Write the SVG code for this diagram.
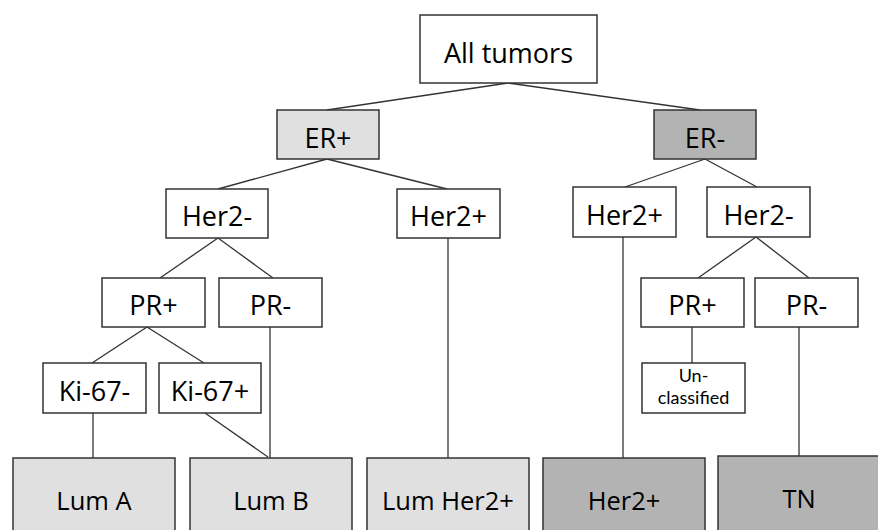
<svg xmlns="http://www.w3.org/2000/svg" width="878" height="530" viewBox="0 0 878 530">
<style>
.box{stroke:#333;stroke-width:1.5;fill:#fff}
.l1{fill:#e0e0e0}
.d1{fill:#b3b3b3}
.t{font-family:"Open Sans","Noto Sans",sans-serif;font-size:27px;fill:#000;text-anchor:middle}
.tb{font-size:25.5px}
.ts{font-family:Lato,"Open Sans",sans-serif;font-size:18px}
#connectors line{stroke:#333;stroke-width:1.3}
</style>
<rect width="878" height="530" fill="#fff"/>
<g id="connectors">
<line x1="508" y1="83" x2="327" y2="110"/>
<line x1="508" y1="83" x2="700" y2="110"/>
<line x1="327" y1="159" x2="218" y2="189"/>
<line x1="327" y1="159" x2="447" y2="189"/>
<line x1="705" y1="159" x2="625" y2="187"/>
<line x1="705" y1="159" x2="757" y2="187"/>
<line x1="218" y1="238" x2="160" y2="278"/>
<line x1="218" y1="238" x2="273" y2="278"/>
<line x1="147" y1="327" x2="92" y2="363"/>
<line x1="147" y1="327" x2="204" y2="363"/>
<line x1="93" y1="413" x2="93" y2="458"/>
<line x1="205" y1="413" x2="268" y2="457"/>
<line x1="270" y1="327" x2="270" y2="458"/>
<line x1="448" y1="238" x2="448" y2="458"/>
<line x1="623" y1="237" x2="623" y2="458"/>
<line x1="756" y1="237" x2="698" y2="278"/>
<line x1="756" y1="237" x2="809" y2="278"/>
<line x1="692" y1="327" x2="692" y2="363"/>
<line x1="799" y1="327" x2="799" y2="456"/>
</g>
<g id="all-tumors"><rect class="box" x="420" y="15" width="177" height="68"/><text class="t" x="508.5" y="63">All tumors</text></g>
<g id="er-pos"><rect class="box l1" x="277" y="110" width="102" height="49"/><text class="t" x="328" y="148">ER+</text></g>
<g id="er-neg"><rect class="box d1" x="654" y="110" width="102" height="49"/><text class="t" x="705" y="148">ER-</text></g>
<g id="her2-neg-l"><rect class="box" x="166" y="189" width="102" height="49"/><text class="t" x="217" y="226">Her2-</text></g>
<g id="her2-pos-l"><rect class="box" x="397" y="189" width="103" height="49"/><text class="t" x="448.5" y="226">Her2+</text></g>
<g id="her2-pos-r"><rect class="box" x="573" y="187" width="103" height="50"/><text class="t" x="624.5" y="225">Her2+</text></g>
<g id="her2-neg-r"><rect class="box" x="707" y="187" width="103" height="50"/><text class="t" x="758.5" y="225">Her2-</text></g>
<g id="pr-pos-l"><rect class="box" x="102" y="278" width="103" height="49"/><text class="t" x="153.5" y="315">PR+</text></g>
<g id="pr-neg-l"><rect class="box" x="219" y="278" width="103" height="49"/><text class="t" x="270.5" y="315">PR-</text></g>
<g id="pr-pos-r"><rect class="box" x="641" y="278" width="103" height="49"/><text class="t" x="692.5" y="315">PR+</text></g>
<g id="pr-neg-r"><rect class="box" x="755" y="278" width="103" height="49"/><text class="t" x="806.5" y="315">PR-</text></g>
<g id="ki67-neg"><rect class="box" x="43" y="363" width="103" height="50"/><text class="t" x="94.5" y="401">Ki-67-</text></g>
<g id="ki67-pos"><rect class="box" x="159" y="363" width="102" height="50"/><text class="t" x="210" y="401">Ki-67+</text></g>
<g id="unclassified"><rect class="box" x="642" y="363" width="103" height="50"/><text class="t ts" x="693.5" y="382">Un-</text><text class="t ts" x="693.5" y="404">classified</text></g>
<g id="lum-a"><rect class="box l1" x="13" y="458" width="162" height="90"/><text class="t tb" x="94" y="510">Lum A</text></g>
<g id="lum-b"><rect class="box l1" x="190" y="458" width="162" height="90"/><text class="t tb" x="271" y="510">Lum B</text></g>
<g id="lum-her2"><rect class="box l1" x="367" y="458" width="162" height="90"/><text class="t tb" x="448" y="510">Lum Her2+</text></g>
<g id="her2-pos-b"><rect class="box d1" x="543" y="458" width="162" height="90"/><text class="t tb" x="624" y="510">Her2+</text></g>
<g id="tn"><rect class="box d1" x="718" y="456" width="162" height="90"/><text class="t tb" x="799" y="508">TN</text></g>
</svg>
